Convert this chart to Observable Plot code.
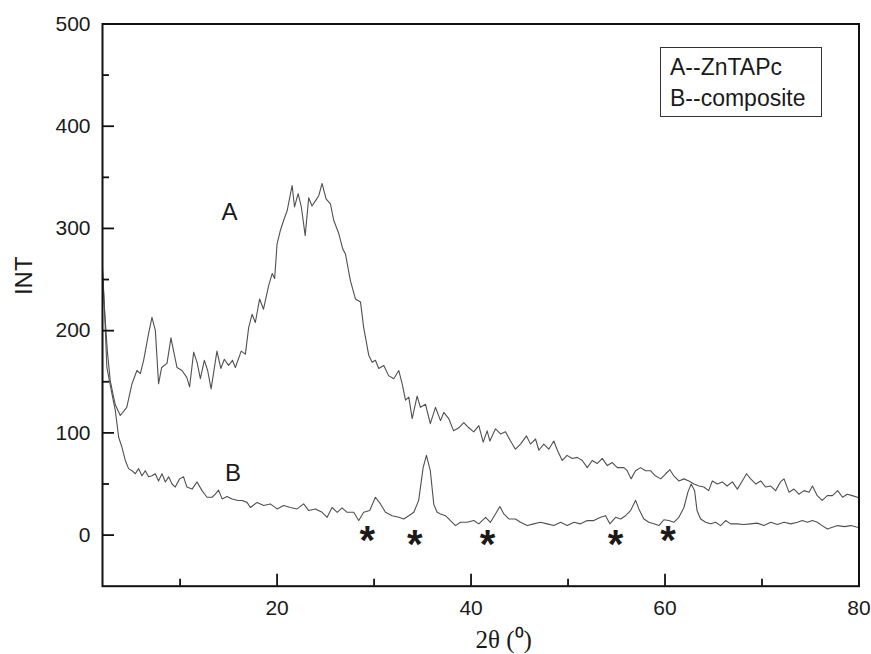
<!DOCTYPE html>
<html><head><meta charset="utf-8">
<script src="https://cdn.jsdelivr.net/npm/d3@7"></script>
<script src="https://cdn.jsdelivr.net/npm/@observablehq/plot@0.6"></script>
<style>
body{margin:0;background:#fff}
#wrap{position:relative;width:871px;height:654px}
#legend{position:absolute;left:660px;top:47px;width:162px;height:70px;border:1.5px solid #333;font-family:'Liberation Sans',Arial,sans-serif;font-size:23px;color:#1a1a1a;line-height:31px;padding:0 0 0 9px;box-sizing:border-box}
#legend div{white-space:nowrap}
</style>
</head><body><div id="wrap"><div id="chart"></div>
<div id="legend"><div style="margin-top:4px">A--ZnTAPc</div><div>B--composite</div></div></div>
<script>
const xMajor = [20, 40, 60, 80];
const xMinor = [10, 30, 50, 70];
const yMajor = [0, 100, 200, 300, 400, 500];
const yMinor = [50, 150, 250, 350, 450];

// Curve A (ZnTAPc): 2θ and intensity
const aX = [2.0,2.2,2.5,2.8,3.3,3.83,4.5,5.04,5.55,5.9,6.24,6.75,7.1,7.45,7.78,8.1,8.65,9.06,9.33,9.68,10.2,10.7,10.98,11.4,11.75,12.09,12.5,12.84,13.2,13.8,14.2,14.56,15.0,15.4,15.7,16.3,16.73,17.07,17.42,17.76,18.2,18.6,19.13,19.5,19.75,20.0,20.34,20.68,21.03,21.55,21.8,22.17,22.5,22.9,23.26,23.6,23.95,24.3,24.64,25.05,25.5,25.84,26.36,26.77,27.05,27.56,28.08,28.6,28.93,29.45,29.8,30.14,30.48,31.0,31.5,32.03,32.55,32.9,33.24,33.58,33.93,34.44,34.78,35.3,35.8,36.33,36.85,37.19,37.7,38.2,38.74,39.25,39.77,40.28,40.8,41.25,41.66,41.94,42.52,43.04,43.55,44.07,44.58,45.1,45.72,46.13,46.65,46.99,47.5,48.02,48.53,48.9,49.4,49.9,50.43,50.95,51.47,51.98,52.5,53.0,53.53,54.05,54.56,55.08,55.76,56.1,56.5,56.96,57.48,58.0,58.5,59.0,59.56,60.07,60.5,60.9,61.43,61.95,62.46,62.98,63.5,64.0,64.5,64.88,65.4,65.9,66.4,66.94,67.46,67.97,68.4,68.83,69.35,69.86,70.38,70.9,71.4,71.9,72.27,72.78,73.3,73.8,74.33,74.85,75.2,75.7,76.2,76.74,77.26,77.8,78.3,78.8,79.3,79.84,80.0];
const aY = [262,222,180,151,128,117,125,148,161,158,171,197,213,200,148,164,168,193,180,164,161,154,145,179,169,153,171,161,143,180,163,172,166,171,164,180,177,203,216,208,231,221,244,256,251,285,298,308,317,342,321,334,321,293,330,322,327,332,344,329,324,308,295,280,275,249,231,228,203,176,169,171,163,166,156,153,161,148,132,135,114,136,125,128,109,125,112,120,114,102,105,110,105,101,107,91,102,92,104,99,101,92,84,89,97,89,94,83,89,84,92,83,73,78,75,76,73,66,73,70,75,68,71,66,66,63,55,63,66,63,63,58,55,60,64,58,53,55,53,50,48,47,43.5,53,50,52,48,52,45,53,60,55,50,53,47,48,43.5,52,55,42,45,40,43.5,42,48,38.6,34,38.6,38.6,43.5,37,40,38.6,37,36];

// Curve B (composite)
const bX = [2.0,2.2,2.45,2.98,3.32,3.66,4.0,4.35,4.69,5.04,5.38,5.72,6.07,6.41,6.75,7.1,7.44,7.78,8.13,8.48,8.82,9.17,9.5,9.95,10.36,10.7,11.23,11.75,12.26,12.78,13.3,13.63,13.97,14.33,14.84,15.36,15.87,16.4,16.9,17.25,17.94,18.62,19.3,20.0,20.68,21.37,22.06,22.74,23.26,23.95,24.64,25.16,25.67,26.2,26.7,27.22,27.9,28.42,28.93,29.55,30.14,30.66,31.17,31.86,32.55,33.06,33.58,34.1,34.6,35.06,35.4,35.8,36.16,36.5,36.85,37.36,37.88,38.4,38.9,39.6,40.28,40.8,41.5,42.0,42.52,42.97,43.38,43.9,44.58,45.1,45.79,46.47,47.16,47.85,48.54,49.23,49.92,50.6,51.29,51.98,52.66,53.35,53.87,54.31,54.9,55.42,55.93,56.45,56.97,57.3,57.82,58.33,58.85,59.37,59.88,60.4,60.9,61.43,61.95,62.36,62.7,63.05,63.3,63.67,64.19,64.7,65.22,65.73,66.25,66.76,67.45,68.1,68.83,69.5,70.2,70.9,71.58,72.27,72.96,73.65,74.16,74.68,75.2,75.7,76.2,76.74,77.26,77.8,78.5,79.16,79.84,80.0];
const bY = [258,222,164,138,122,96,86,73,65,63,60,65,58,63,57,58,60,53,60,52,57,50,47,55,57,47,45,52,43.5,37,37,40,44,35.4,37.7,35.4,34,33.8,32,27,32,29,30.5,25.6,29,27,25.6,30.5,24,25.6,22.3,17.4,27,22.3,26.6,22.3,22.3,14.2,22.3,24,37,30.5,22.3,19,17.4,15.8,19,22.3,34,66,78,63,30,22.3,20.7,19,14.2,9.3,12.5,12.5,14.2,11,17.4,12.5,20.7,28,20.7,15.8,15.8,12.5,9.3,11,12.5,11,9.3,12.5,9.3,12.5,11,14.2,14.2,17.4,19,11,17.4,15.8,19,24,34,25.6,15.8,12.5,11,9.3,15,14.2,12.5,17.4,27,42,50,43.5,24,15.8,12.5,11,12.5,9.3,14.2,11,11,10.3,11,11.7,9.3,12.5,10.3,12.5,11,12.5,14.2,12.5,14.2,12.5,9.3,6,7.6,9.3,8.3,9.3,7.6,7.5];

// Asterisks marking peaks
const starX = [29.3, 34.2, 41.7, 54.9, 60.3];
const starY = [1.5, -2.5, -2.5, -2.5, 1.5];

// Curve labels
const curveLabels = [{x: 15.1, y: 316, t: "A"}, {x: 15.45, y: 60, t: "B"}];

const seriesA = aX.map((x, i) => ({x, y: aY[i]}));
const seriesB = bX.map((x, i) => ({x, y: bY[i]}));

const sans = "'Liberation Sans', Arial, sans-serif";
const ink = "#1a1a1a";
const W = 871, H = 654, mL = 102, mR = 12.5, mT = 23.5, mB = 68.3;
const plotW = W - mL - mR, plotH = H - mT - mB;

const chart = Plot.plot({
  width: W, height: H,
  marginLeft: mL, marginRight: mR, marginTop: mT, marginBottom: mB,
  style: {fontFamily: sans, background: "white", color: ink, overflow: "visible"},
  x: {domain: [2, 80], label: null},
  y: {domain: [-50, 500], label: null},
  marks: [
    Plot.line(seriesA, {x: "x", y: "y", stroke: "#505050", strokeWidth: 1.1}),
    Plot.line(seriesB, {x: "x", y: "y", stroke: "#505050", strokeWidth: 1.1}),
    // inward ticks
    Plot.tickX(xMajor, {x: d => d, insetTop: plotH - 12, stroke: "#111", strokeWidth: 1.8}),
    Plot.tickX(xMinor, {x: d => d, insetTop: plotH - 7, stroke: "#111", strokeWidth: 1.8}),
    Plot.tickY(yMajor, {y: d => d, insetRight: plotW - 12, stroke: "#111", strokeWidth: 1.8}),
    Plot.tickY(yMinor, {y: d => d, insetRight: plotW - 7, stroke: "#111", strokeWidth: 1.8}),
    // tick labels
    Plot.axisX({ticks: xMajor, tickSize: 0, tickPadding: 14, fontSize: 21, fill: ink, label: null}),
    Plot.axisY({ticks: yMajor, tickSize: 0, tickPadding: 12, fontSize: 21, fill: ink, label: null}),
    Plot.frame({stroke: "#111", strokeWidth: 2}),
    // axis titles
    Plot.text(["INT"], {frameAnchor: "left", dx: -78.5, dy: -10, rotate: -90, fontSize: 24, fill: ink}),
    Plot.text(["2θ (⁰)"], {frameAnchor: "bottom", dx: 23, dy: 62, fontSize: 25, fontFamily: "'Liberation Serif', 'Times New Roman', serif", fill: ink}),
    // curve labels
    Plot.text(curveLabels, {x: "x", y: "y", text: "t", fontSize: 24, fill: ink}),
    // asterisks
    Plot.text(starX, {x: d => d, y: (d, i) => starY[i], text: () => "*", dy: 8, fontSize: 40, fontWeight: "bold", fill: ink})
  ]
});
document.getElementById("chart").appendChild(chart);
</script>
</body></html>
